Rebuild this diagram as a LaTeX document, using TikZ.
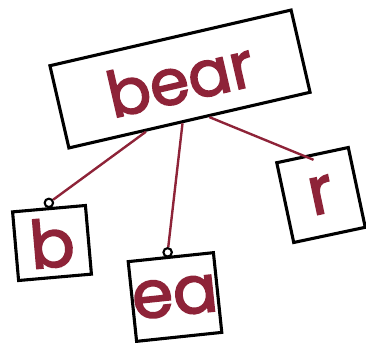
\documentclass[tikz,border=0pt]{standalone}
\usepackage{fontspec}
\newfontfamily\sketchfont{Poppins}[FakeBold=2.5]
\usepackage{xcolor}
\usetikzlibrary{calc}
\definecolor{wine}{HTML}{8E2338}

\begin{document}
\begin{tikzpicture}[
    x=0.025cm, y=-0.025cm,
    word/.style={rectangle, draw=black, line width=2.2pt, fill=white, inner sep=0pt, text=wine, font=\sketchfont\fontsize{45}{45}\selectfont},
    part/.style={rectangle, draw=black, line width=2.2pt, fill=white, inner sep=0pt, text=wine, font=\sketchfont\fontsize{47}{47}\selectfont},
    hook/.style={circle, draw=black, line width=1.5pt, fill=white, inner sep=0pt, minimum size=6pt},
    link/.style={draw=wine, line width=1.7pt}
]
    \useasboundingbox (0,0) rectangle (366,342);

    % Word box
    \node[word, minimum width=176pt, minimum height=60pt, rotate=13] (bear) at (180,79) {bear};

    % Part boxes
    \node[part, minimum width=52pt, minimum height=49pt, rotate=5] (b) at (52,243) {b};
    \node[part, minimum width=56pt, minimum height=57pt, rotate=6] (ea) at (175,297) {ea};
    \node[part, minimum width=52pt, minimum height=58pt, rotate=12] (r) at (321,195) {r};

    % Hooks
    \node[hook, anchor=south] (bhook) at ($(b.north)+(0,1)$) {};
    \node[hook, anchor=south] (eahook) at ($(ea.north)+(-3,2)$) {};

    % Links
    \draw[link] ($(bear.south west)!0.32!(bear.south east)$) -- (bhook);
    \draw[link] ($(bear.south west)!0.47!(bear.south east)$) -- (eahook);
    \draw[link] ($(bear.south west)!0.58!(bear.south east)$) -- ($(r.north)!0.15!(r.center)$);

\end{tikzpicture}
\end{document}
